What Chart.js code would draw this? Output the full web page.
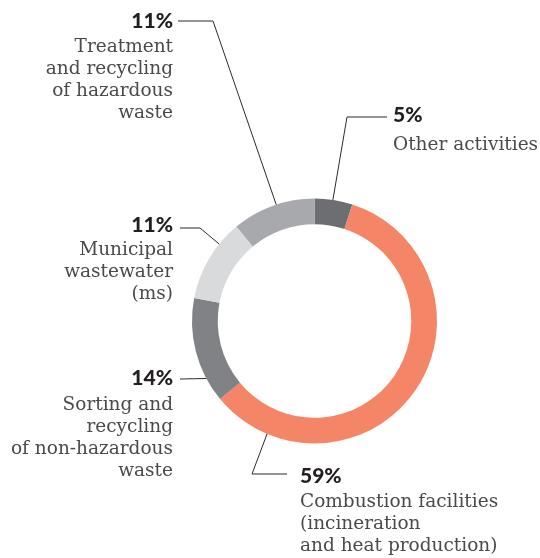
<!DOCTYPE html>
<html>
<head>
<meta charset="utf-8">
<script src="https://cdn.jsdelivr.net/npm/chart.js@4.4.1/dist/chart.umd.min.js"></script>
<style>
  html, body { margin: 0; padding: 0; background: #ffffff; }
  #wrap { position: relative; width: 540px; height: 558px; }
</style>
</head>
<body>
<div id="wrap"><canvas id="chart" width="540" height="558"></canvas></div>
<script>
// Shares of emissions by activity, clockwise from 12 o'clock
const categories = [
  'Other activities',
  'Combustion facilities (incineration and heat production)',
  'Sorting and recycling of non-hazardous waste',
  'Municipal wastewater (ms)',
  'Treatment and recycling of hazardous waste'
];
const shares = [5, 59, 14, 11, 11];
const labelLines = [
  ['Other activities'],
  ['Combustion facilities', '(incineration', 'and heat production)'],
  ['Sorting and', 'recycling', 'of non-hazardous', 'waste'],
  ['Municipal', 'wastewater', '(ms)'],
  ['Treatment', 'and recycling', 'of hazardous', 'waste']
];
const colors = ['#6d6e71', '#f58567', '#808285', '#d9dadc', '#a7a9ac'];

// Callout layout: text anchor, leader elbow/end, and where on the arc the leader lands
const callouts = [
  { align: 'left',  x: 393, y: 122, bodyGap: 28, end: [387, 117], elbow: [347, 117], at: 0.48 },
  { align: 'left',  x: 300, y: 483, bodyGap: 24, end: [287, 474], elbow: [252, 474], at: 0.87 },
  { align: 'right', x: 173, y: 385, bodyGap: 25, end: [180, 379], elbow: null,       at: 0.23 },
  { align: 'right', x: 173, y: 232, bodyGap: 23, end: [180, 228], elbow: [200, 228], at: 0.71 },
  { align: 'right', x: 173, y: 28,  bodyGap: 24, end: [178, 21],  elbow: [213, 21],  at: 0.54 }
];

const calloutPlugin = {
  id: 'callouts',
  afterDraw(chart) {
    const ctx = chart.ctx;
    const meta = chart.getDatasetMeta(0);
    meta.data.forEach((arc, i) => {
      const c = callouts[i];
      const p = arc.getProps(['x', 'y', 'startAngle', 'endAngle', 'outerRadius'], true);
      const a = p.startAngle + c.at * (p.endAngle - p.startAngle);
      const ax = p.x + Math.cos(a) * p.outerRadius;
      const ay = p.y + Math.sin(a) * p.outerRadius;

      ctx.save();
      ctx.strokeStyle = '#2b2b2b';
      ctx.lineWidth = 1;
      ctx.beginPath();
      ctx.moveTo(c.end[0], c.end[1]);
      if (c.elbow) ctx.lineTo(c.elbow[0], c.elbow[1]);
      ctx.lineTo(ax, ay);
      ctx.stroke();

      ctx.textAlign = c.align;
      ctx.textBaseline = 'alphabetic';
      ctx.fillStyle = '#231f20';
      ctx.font = '900 21px Lato, "Open Sans", sans-serif';
      ctx.fillText(shares[i] + '%', c.x, c.y);

      ctx.fillStyle = '#4a4a4c';
      ctx.font = '18.5px "DejaVu Serif", serif';
      labelLines[i].forEach((line, k) => {
        ctx.fillText(line, c.x, c.y + c.bodyGap + k * 22);
      });
      ctx.restore();
    });
  }
};

new Chart(document.getElementById('chart'), {
  type: 'doughnut',
  data: {
    labels: categories,
    datasets: [{
      data: shares,
      backgroundColor: colors,
      borderWidth: 0,
      hoverOffset: 0
    }]
  },
  options: {
    responsive: false,
    animation: false,
    cutout: '79%',
    rotation: 0,
    layout: { padding: { left: 192, right: 103, top: 198.5, bottom: 114.5 } },
    plugins: {
      legend: { display: false },
      tooltip: { enabled: false }
    },
    events: []
  },
  plugins: [calloutPlugin]
});
</script>
</body>
</html>
